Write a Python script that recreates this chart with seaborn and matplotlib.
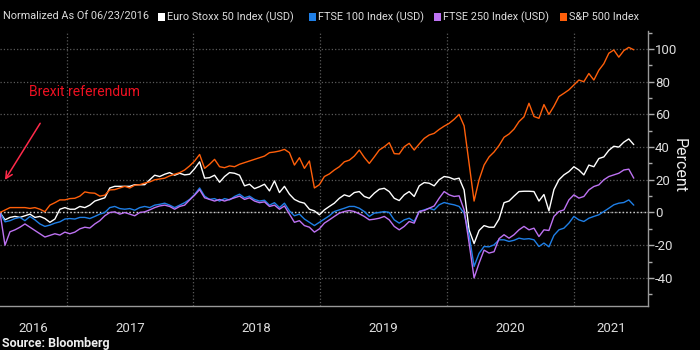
import pandas as pd
import numpy as np
import matplotlib
matplotlib.use('Agg')
import matplotlib.pyplot as plt
import matplotlib.transforms as mtransforms
from matplotlib.patches import Rectangle
from matplotlib.ticker import NullFormatter
import seaborn as sns

# --- DATA (percent change, normalized as of 06/23/2016) ---
dates = pd.date_range('2016-06-23', '2021-06-23', periods=128)

series_names = ['Euro Stoxx 50 Index (USD)', 'FTSE 100 Index (USD)',
                'FTSE 250 Index (USD)', 'S&P 500 Index']
series_colors = ['#ffffff', '#1f7fe6', '#bd72f2', '#ff5f0a']

euro_stoxx = [
    0, -4.5, -3, -2.4, -3, -2, -1, -3, -2.4, -3.7,
    -6, -4, 2, 3, 2, 2, 3.7, 3, 4.5, 7,
    8, 9, 15, 16, 16, 16, 16, 17, 17, 17,
    20, 22.8, 22, 23.4, 24.4, 22.8, 24, 23, 23.4, 26.8,
    31, 21, 21.3, 22.8, 18.5, 22, 24.4, 24, 22.8, 16.3,
    17.3, 14.6, 15.8, 17.3, 13.2, 19.3, 12.2, 16, 11.2, 8,
    6.5, 5.7, 2, 1, -1.4, 1.6, 3.7, 5.7, 8.7, 10.8,
    9.8, 12.2, 12.8, 9.8, 8.7, 11.8, 14.2, 14.8, 12.8, 8.7,
    7.3, 10.8, 12.8, 9.8, 16.3, 18.3, 17.9, 16.3, 20, 22,
    21.5, 20.3, 21, 13.8, -10.6, -19, -11, -8, -9, -9,
    -4, 6, 7, 10, 12.8, 13, 13, 12.8, 7, 11,
    1, 14, 20, 23, 25, 28, 26, 23, 29, 28,
    33, 34, 38, 40.5, 40, 43, 45, 41.5,
]

ftse100 = [
    0, -5.7, -5, -3.7, -3, -5, -2.4, -4.5, -7, -8.5,
    -7.7, -6.5, -5.7, -4, -3.7, -4, -3, -3, -3.7, -2.4,
    -1, 0, 3, 3.7, 2.4, 2, 2.4, 1.4, 3, 3.7,
    3, 4.5, 5, 5.7, 4.5, 3, 4.5, 6, 8, 11,
    15, 10, 8, 8.5, 7, 8.5, 7.7, 9.8, 11.2, 9,
    10, 8, 7, 7.5, 4.5, 6, 3, 5.7, 1, -2,
    -1, -4, -6, -8, -6, -4, -2, 0.6, 1.6, 2.6,
    3.7, 3.7, 2.6, 0.6, -2.4, -0.4, 0, 0.6, 0, -4.5,
    -6.5, -4.5, -3.5, -5.5, 0.6, 1.6, 2.6, 1.6, 4.7, 6.1,
    5.3, 4.7, 3.7, -0.4, -13.6, -33, -25, -20.8, -21, -19.8,
    -16.7, -16.7, -17.7, -17, -15.7, -16.3, -16, -16.7, -20.8, -18.7,
    -21, -14, -10.6, -9.6, -6.5, -2.4, -4.5, -5.5, -3.5, -2.4,
    -1.4, 0.6, 2.6, 4.7, 5.7, 6.1, 7.7, 4.5,
]

ftse250 = [
    0, -20, -11.8, -10.6, -9, -7, -9, -11, -13, -15,
    -14, -13, -13.8, -12, -13, -12, -10, -9, -9.5, -7,
    -5, -2, 0, 0.4, -1, 0, -1, -2, 0, 0.4,
    1.6, 3, 4, 4.5, 3.7, 2, 3.7, 4.5, 7.7, 10.6,
    14, 9, 8, 7, 8, 7, 8, 9, 10, 8,
    9, 7, 6, 6.5, 3.7, 4.5, 2, 4, -1, -6,
    -5, -8, -9, -12, -10, -6.5, -4.5, -2.4, -0.4, 0.6,
    1.2, 0.6, -0.8, -2.4, -4.5, -4.1, -3.5, -2.4, -4.5, -8.5,
    -10.6, -8.5, -5.5, -6.5, 0.6, 1.2, 2.6, 4, 8.7, 12.8,
    10.8, 9.8, 10.2, 1.6, -18.7, -40, -31, -23, -24.8, -24,
    -16, -13.6, -15.7, -13.6, -10.6, -8.5, -10.6, -9.6, -14.7, -10.6,
    -11, -2.4, 0.6, 1.6, 7.7, 10.8, 8.8, 9.8, 13.8, 15.9,
    16.9, 20, 22, 23, 24, 26, 26.5, 21,
]

sp500 = [
    0, 1.5, 3, 3, 3, 3, 2.5, 3, 2, 0.5,
    4.5, 6, 7.7, 7.7, 8.5, 8.7, 10, 12.6, 12, 11.8,
    10, 10.6, 13.8, 14, 15, 16, 15, 16.7, 17, 18,
    18.7, 20, 20.5, 21, 22.4, 23.4, 24.4, 26, 28.5, 31.5,
    35.5, 27, 29.5, 32.5, 28, 27.4, 28.5, 28, 29.5, 30.5,
    31.5, 32.5, 33.5, 34.5, 36.6, 37, 37.6, 38.6, 36.6, 29,
    33.5, 27, 31.5, 15, 17, 22, 23.6, 26, 28, 31,
    32, 34.5, 38.2, 33.7, 30, 34, 38.2, 40.2, 42.7, 36,
    35.8, 40.2, 42.3, 38.2, 41.9, 45.3, 47.4, 48.4, 50.8, 52.8,
    54.5, 57, 60, 53, 30, 7, 20, 29, 34, 37,
    41, 46, 48, 51, 55.6, 58.5, 66.8, 58.7, 57.6, 66,
    60, 65, 70.9, 72.9, 75, 78, 81, 80, 85, 81,
    87, 91, 97.4, 99.4, 95, 99, 101, 99.5,
]

years = [2016, 2017, 2018, 2019, 2020, 2021]
y_major = [-40, -20, 0, 20, 40, 60, 80, 100]

# --- STYLE ---
sns.set_theme(style='dark')
plt.rcParams['font.family'] = ['Roboto', 'DejaVu Sans']
plt.rcParams['axes.unicode_minus'] = False

df = pd.DataFrame({'date': dates,
                   series_names[0]: euro_stoxx,
                   series_names[1]: ftse100,
                   series_names[2]: ftse250,
                   series_names[3]: sp500})
df_long = df.melt(id_vars='date', var_name='series', value_name='pct')

W, H = 700, 350
fig = plt.figure(figsize=(7, 3.5), dpi=100, facecolor='black')
ax = fig.add_axes([0.0, 1 - 305.7 / H, 648 / W, (305.7 - 31) / H])
ax.set_facecolor('black')

sns.lineplot(data=df_long, x='date', y='pct', hue='series', hue_order=series_names,
             palette=series_colors, linewidth=1.0, legend=False, ax=ax, zorder=3)

x0, x1 = pd.Timestamp('2016-06-23'), pd.Timestamp('2021-08-03')
ax.set_xlim(x0, x1)
ax.set_ylim(-57, 111)
ax.set_xlabel('')

# y axis on the right
ax.set_yticks(y_major)
ax.set_yticks(np.arange(-50, 111, 10), minor=True)
ax.yaxis.tick_right()
ax.yaxis.set_label_position('right')
ax.tick_params(axis='y', which='major', direction='out', length=4, width=1,
               color='#aaaaaa', labelcolor='#dddddd', labelsize=9.5, pad=1)
ax.tick_params(axis='y', which='minor', direction='out', length=3, width=1, color='#aaaaaa')
ax.set_ylabel('Percent', rotation=270, color='#eeeeee', fontsize=11.5)
ax.yaxis.set_label_coords(1.059, 0.512)

# x axis: year boundaries as long ticks, quarters as small ticks
bounds = [pd.Timestamp(f'{y}-01-01') for y in years[1:]]
ax.set_xticks(bounds)
ax.set_xticklabels([])
quarters = [d for d in pd.date_range('2016-07-01', '2021-08-01', freq='QS')
            if d.month != 1]
ax.set_xticks(quarters, minor=True)
ax.xaxis.set_minor_formatter(NullFormatter())
ax.tick_params(axis='x', which='major', direction='out', length=21.5, width=1, color='#888888')
ax.tick_params(axis='x', which='minor', direction='out', length=2.5, width=1, color='#888888')

trans = mtransforms.blended_transform_factory(ax.transData, ax.transAxes)
edges = [x0] + bounds + [x1]
for yr, a, b in zip(years, edges[:-1], edges[1:]):
    mid = a + (b - a) / 2
    ax.text(mid, -(328 - 305.7) / 274.7, str(yr), transform=trans, ha='center',
            va='center', color='#dddddd', fontsize=9.5)

# grid
ax.grid(axis='y', which='major', linestyle=':', color='#5a5a5a', linewidth=0.9)
ax.grid(axis='x', which='major', linestyle=':', color='#5a5a5a', linewidth=0.9)
ax.axhline(0, color='#d0d0d0', linestyle=':', linewidth=1.0, zorder=2)

for side in ['top', 'left']:
    ax.spines[side].set_visible(False)
for side in ['bottom', 'right']:
    ax.spines[side].set_color('#999999')
    ax.spines[side].set_linewidth(1)

# annotation
ax.annotate('', xy=(pd.Timestamp('2016-07-03'), 18.5), xytext=(pd.Timestamp('2016-10-21'), 56),
            arrowprops=dict(arrowstyle='->', color='#ff2a4a', lw=1.1))
ax.text(pd.Timestamp('2016-09-15'), 73.5, 'Brexit referendum', color='#ee1122',
        fontsize=10, ha='left', va='center')

# legend row
row_y = 1 - 17 / H
fig.text(3 / W, row_y, 'Normalized As Of 06/23/2016', color='#dddddd', fontsize=7.8, va='center')
square_x = [158, 309, 434, 560]
for name, color, sx in zip(series_names, series_colors, square_x):
    fig.patches.append(Rectangle((sx / W, row_y - 3.5 / H), 7 / W, 7 / H,
                                 transform=fig.transFigure, facecolor=color,
                                 edgecolor='none'))
    fig.text((sx + 9) / W, row_y, name, color='#dddddd', fontsize=7.8, va='center')

fig.text(2 / W, 1 - 344 / H, 'Source: Bloomberg', color='#eeeeee', fontsize=9,
         fontweight='bold', va='center')

fig.savefig('out.png', dpi=100, facecolor='black')
